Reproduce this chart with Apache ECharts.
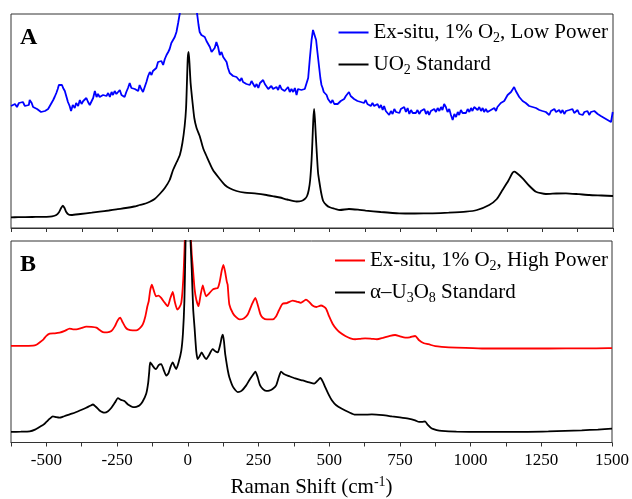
<!DOCTYPE html>
<html>
<head>
<meta charset="utf-8">
<script src="https://cdn.jsdelivr.net/npm/echarts@6/dist/echarts.min.js"></script>
<style>
  html, body { margin: 0; padding: 0; background: #fff; }
  #chart { width: 632px; height: 499px; }
</style>
</head>
<body>
<div id="chart"></div>
<script>
// Raman shift axis (cm-1)
const shiftMin = -625;
const shiftMax = 1500;
const tickStep = 125;
const labelStep = 250;

// Panel A: ex-situ sample at low laser power vs UO2 reference (arbitrary intensity)
const lowPowerA = [
  [-625,122],[-618,120],[-611,124],[-604,121],[-597,125],[-590,123],[-583,126],[-576,122],[-569,124],[-562,123],
  [-559,128],[-552,125],[-547,121],[-540,122],[-533,119],[-526,120],[-519,116],[-512,118],[-505,117],[-500,116],
  [-494,119],[-488,122],[-482,125],[-476,128],[-471,131],[-465,135],[-460,139],[-456,143],[-450,141],[-445,143],
  [-441,140],[-435,137],[-429,131],[-424,126],[-418,122],[-413,117],[-407,123],[-400,120],[-395,125],[-388,122],
  [-382,128],[-376,124],[-370,127],[-364,125],[-359,130],[-353,126],[-347,123],[-341,125],[-335,130],[-329,137],
  [-323,131],[-318,134],[-312,131],[-306,129],[-300,133],[-294,135],[-288,132],[-282,135],[-276,131],[-270,136],
  [-265,133],[-259,137],[-253,134],[-247,136],[-241,138],[-235,133],[-229,135],[-224,131],[-218,136],[-212,140],
  [-206,145],[-200,140],[-194,142],[-188,139],[-182,141],[-176,137],[-171,143],[-165,139],[-159,136],[-153,141],
  [-147,146],[-141,152],[-135,156],[-129,153],[-124,157],[-118,155],[-112,160],[-106,166],[-100,164],[-94,167],
  [-88,163],[-82,169],[-76,173],[-70,176],[-65,179],[-59,185],[-53,188],[-47,191],[-41,196],[-35,205],
  [-29,215],[-20,240],[-10,270],[0,290],[10,275],[20,245],[28,222],[33,212],[37,203],[41,196],
  [47,193],[53,195],[59,191],[65,187],[71,185],[77,181],[83,176],[88,175],[94,180],[100,186],
  [106,181],[112,173],[118,176],[124,171],[130,173],[136,166],[141,160],[147,155],[153,157],[159,152],
  [165,154],[171,151],[177,149],[183,147],[189,150],[194,146],[200,148],[206,144],[212,146],[218,143],
  [224,147],[230,145],[236,141],[242,144],[248,140],[254,145],[260,143],[265,148],[271,144],[277,146],
  [283,139],[288,138],[294,142],[300,139],[306,141],[312,141],[318,138],[324,143],[330,139],[335,141],
  [341,137],[347,138],[353,141],[359,136],[365,139],[371,136],[377,140],[383,133],[388,139],[394,137],
  [400,138],[406,136],[412,139],[418,141],[424,150],[430,170],[436,188],[441,198],[444,199],[448,197],
  [452,188],[457,175],[463,160],[467,150],[471,143],[475,140],[479,136],[483,137],[489,133],[494,129],
  [499,127],[504,125],[510,128],[516,124],[522,126],[528,124],[533,123],[539,127],[545,125],[551,129],
  [557,132],[562,130],[568,136],[574,132],[580,134],[586,129],[592,130],[598,127],[604,129],[610,126],
  [615,128],[621,125],[627,128],[633,124],[639,126],[645,122],[651,125],[657,122],[663,121],[669,124],
  [675,120],[681,123],[687,118],[692,122],[698,117],[704,119],[710,113],[716,117],[722,114],[728,119],
  [734,116],[740,118],[746,115],[751,119],[757,118],[763,121],[769,116],[775,120],[781,114],[787,118],
  [793,115],[799,117],[804,115],[810,118],[816,114],[822,117],[828,115],[834,119],[840,114],[846,117],
  [851,113],[857,117],[863,115],[869,119],[875,116],[881,120],[887,117],[893,121],[898,118],[904,124],
  [910,121],[916,116],[922,119],[928,113],[934,108],[940,114],[946,111],[952,116],[957,113],[963,118],
  [969,115],[975,117],[981,115],[987,119],[993,116],[999,120],[1004,117],[1010,121],[1016,120],[1022,118],
  [1028,121],[1034,117],[1040,120],[1045,116],[1051,119],[1057,116],[1063,115],[1069,118],[1075,116],[1081,120],
  [1087,117],[1092,121],[1098,121],[1104,125],[1110,123],[1116,127],[1122,130],[1128,133],[1134,131],[1140,136],
  [1146,134],[1151,141],[1157,137],[1163,135],[1169,131],[1175,133],[1181,127],[1187,129],[1192,125],[1198,127],
  [1204,122],[1210,124],[1216,121],[1222,123],[1228,120],[1234,122],[1240,118],[1245,120],[1251,117],[1257,119],
  [1263,116],[1269,117],[1275,113],[1281,117],[1287,115],[1293,119],[1299,116],[1304,118],[1310,118],[1316,115],
  [1322,118],[1328,114],[1334,117],[1340,115],[1346,118],[1351,116],[1357,119],[1363,115],[1369,116],[1375,118],
  [1381,114],[1387,116],[1393,113],[1399,116],[1404,114],[1410,117],[1416,113],[1422,116],[1428,114],[1434,117],
  [1440,116],[1446,114],[1452,115],[1457,112],[1463,114],[1469,110],[1475,111],[1481,108],[1487,110],[1493,106],
  [1499,116]
];

const uo2Standard = [
  [-625,10.7],[-600,10.8],[-550,11],[-500,11.2],[-480,11.6],[-465,13],[-455,16],[-448,20],[-442,22.3],[-436,20],
  [-430,16],[-422,13.5],[-412,13],[-380,14],[-340,15.3],[-312,16.3],[-280,17.5],[-253,18.7],[-220,20],[-190,21.5],
  [-171,23],[-150,24.5],[-135,26.3],[-118,29],[-100,34],[-82,40],[-65,48],[-53,58],[-40,66],[-29,73],
  [-20,85],[-12,102],[-7,120],[-4,145],[-1,170],[2,176],[5,165],[9,145],[16,125],[22,110],
  [30,100],[41,92],[53,80],[65,72],[88,58],[112,49],[130,43],[147,39.7],[171,37],[200,35.3],
  [242,34.4],[277,33],[305,31.5],[324,30.5],[350,28.5],[383,26.5],[400,27],[412,29],[420,32],[426,38],
  [431,48],[436,68],[439,87],[442,108],[445,119],[448,108],[451,92],[455,72],[459,55],[463,47],
  [470,35],[477,27],[488,23],[500,20.7],[520,19],[536,18],[568,19],[600,18.3],[627,17.3],[680,16],
  [745,14.7],[800,14.5],[863,14.7],[920,15.3],[981,16.3],[1020,18],[1063,23],[1090,29],[1110,38],[1130,47],
  [1145,55],[1151,56.3],[1160,55],[1181,49.7],[1205,42],[1228,36.3],[1263,34],[1300,34.5],[1334,34.7],[1380,33.8],
  [1416,33],[1460,32.5],[1500,32]
];

// Panel B: ex-situ sample at high laser power vs alpha-U3O8 reference
const highPowerB = [
  [-625,97.3],[-590,97.3],[-547,97.5],[-535,98.5],[-524,100.7],[-510,104],[-500,107.5],[-488,109.7],[-470,110],[-453,110.7],
  [-435,112.5],[-418,114.7],[-406,114],[-394,114],[-375,115.5],[-359,116.7],[-340,116.5],[-323,115.7],[-310,113],[-300,111.3],
  [-285,111],[-270,112.3],[-258,117],[-248,123],[-239,125.7],[-230,121],[-220,116],[-212,114],[-195,113],[-182,113],
  [-170,115],[-159,119],[-150,127],[-143,137],[-138,142.3],[-133,153],[-127,159],[-120,153],[-112,147.3],[-103,148],
  [-94,145.7],[-82,141],[-71,137.3],[-62,145],[-53,151.7],[-46,142],[-37,134],[-30,136],[-23,140.7],[-18,155],
  [-14,176],[-9,220],[0,420],[9,220],[14,190],[18,176],[24,155],[30,144],[38,137.3],[45,148],
  [53,158.3],[58,153],[65,147.3],[75,150],[88,154],[97,155],[106,155.7],[113,162],[120,173],[126,179],
  [132,172],[138,162],[141,159],[147,139],[160,130],[172,126],[183,124],[198,125],[212,129],[225,138],
  [239,145.7],[248,138],[257,129],[265,125.7],[280,124],[300,124],[312,127],[322,133],[335,139.7],[350,140.5],
  [371,143],[385,142],[400,140.7],[410,142.5],[418,144],[428,142],[441,138],[455,136.5],[471,138],[480,137],
  [489,134.7],[500,127],[512,119.7],[525,114.5],[536,111.3],[557,107.3],[575,105],[592,104],[610,104.5],[627,105],
  [650,104.5],[669,104],[690,105.5],[715,107.5],[733,108.3],[750,107],[769,105.7],[785,106],[804,107.3],[818,103],
  [835,100],[851,99],[875,97],[898,96.3],[950,95.5],[1040,94.7],[1150,94.7],[1275,94.7],[1400,94.8],[1487,95],
  [1500,95]
];

const u3o8Standard = [
  [-625,10.7],[-590,10.9],[-559,11.3],[-540,13],[-524,15.7],[-510,18],[-500,20.7],[-488,24],[-477,26.3],[-465,25.5],
  [-453,25],[-441,26],[-429,27.3],[-410,29],[-394,30.7],[-375,33],[-359,35],[-345,37],[-335,38.3],[-325,36],
  [-312,32.3],[-300,30.3],[-294,30],[-282,31.5],[-270,35],[-258,40],[-247,44.7],[-236,43],[-224,41.7],[-210,38],
  [-194,35.7],[-182,36],[-171,37.3],[-160,41],[-147,49],[-140,60],[-136,72],[-133,80.7],[-128,79],[-124,77.3],
  [-118,75],[-112,74],[-103,78],[-94,79],[-85,73],[-76,67.3],[-68,70],[-60,77],[-53,80.7],[-47,77],
  [-41,74],[-33,80],[-23,92.3],[-17,110],[-12,142],[-8,200],[-4,300],[0,420],[4,300],[9,210],
  [14,175],[19,135],[24,115.7],[30,92],[35,84],[42,87],[49,90.7],[57,87],[65,84],[75,88],
  [88,94],[97,92],[106,90.7],[115,99],[120,106],[124,108.7],[128,102],[132,90],[136,82.3],[142,72],
  [147,65.7],[160,56],[177,50.7],[190,52],[206,57.3],[218,63],[230,68],[239,71.5],[247,66],[255,58],
  [265,54],[277,52],[288,52.3],[300,54],[312,57.3],[322,66],[330,71.5],[340,69],[359,66.8],[380,64.5],
  [406,62.5],[430,60.5],[447,59.3],[458,62],[469,65],[478,61],[486,55.7],[497,49],[510,42.3],[525,37.5],
  [545,34],[570,30.5],[592,28],[620,28],[651,28.3],[690,27.5],[722,26.3],[750,25.3],[780,24],[804,22.3],
  [818,20.7],[828,20.7],[839,21.3],[848,18],[863,14],[880,12.5],[898,11.7],[950,11],[1040,10.7],[1157,10.7],
  [1275,11.3],[1393,12.3],[1450,13],[1500,14]
];

// Series names and their rich-text legend labels
const nameLowPower = 'Ex-situ, 1% O2, Low Power';
const nameUO2 = 'UO2 Standard';
const nameHighPower = 'Ex-situ, 1% O2, High Power';
const nameU3O8 = 'α–U3O8 Standard';
const legendLabels = {
  [nameLowPower]: 'Ex-situ, 1% O{sub|2}, Low Power',
  [nameUO2]: 'UO{sub|2} Standard',
  [nameHighPower]: 'Ex-situ, 1% O{sub|2}, High Power',
  [nameU3O8]: 'α–U{sub|3}O{sub|8} Standard'
};

const serif = '"Liberation Serif", "Times New Roman", serif';
const frameColor = '#333';

const chart = echarts.init(document.getElementById('chart'), null, { renderer: 'canvas' });

function xAxisFor(gridIndex, withLabels) {
  return {
    type: 'value', gridIndex: gridIndex,
    min: shiftMin, max: shiftMax, interval: tickStep,
    axisLine: { show: true, onZero: false, lineStyle: { color: frameColor, width: 1 } },
    axisTick: { show: true, inside: false, length: 4, lineStyle: { color: frameColor, width: 1 } },
    splitLine: { show: false },
    axisLabel: {
      show: withLabels, margin: 10, color: '#000', fontFamily: serif, fontSize: 17,
      formatter: v => (v % labelStep === 0 ? String(v) : '')
    },
    name: withLabels ? 'Raman Shift (cm{sup|-1})' : '',
    nameLocation: 'middle', nameGap: 33,
    nameTextStyle: {
      color: '#000', fontFamily: serif, fontSize: 21,
      rich: { sup: { fontSize: 14, fontFamily: serif, color: '#000', padding: [0, 0, 10, 0] } }
    }
  };
}

function legendFor(names, top) {
  return {
    data: names, orient: 'vertical', right: 19, top: top,
    itemWidth: 30, itemHeight: 2, itemGap: 9, icon: 'rect',
    selectedMode: false,
    formatter: n => legendLabels[n],
    textStyle: {
      color: '#000', fontFamily: serif, fontSize: 21,
      rich: { sub: { fontSize: 14, fontFamily: serif, color: '#000', padding: [11, 0, 0, 0] } }
    }
  };
}

function lineSeries(name, data, color, idx, smooth) {
  return {
    name: name, type: 'line', data: data, xAxisIndex: idx, yAxisIndex: idx,
    showSymbol: false, symbol: 'none', clip: true, smooth: smooth,
    lineStyle: { color: color, width: 1.8 }, itemStyle: { color: color },
    animation: false
  };
}

chart.setOption({
  animation: false,
  backgroundColor: '#fff',
  grid: [
    { left: 11, right: 19, top: 14, height: 214, show: true, borderColor: frameColor, borderWidth: 1, containLabel: false },
    { left: 11, right: 19, top: 241, height: 203, show: true, borderColor: frameColor, borderWidth: 1, containLabel: false }
  ],
  xAxis: [xAxisFor(0, false), xAxisFor(1, true)],
  yAxis: [
    { type: 'value', gridIndex: 0, min: 0, max: 214, show: false },
    { type: 'value', gridIndex: 1, min: 0, max: 203, show: false }
  ],
  legend: [
    legendFor([nameLowPower, nameUO2], 17),
    legendFor([nameHighPower, nameU3O8], 245)
  ],
  graphic: [
    { type: 'text', left: 20, top: 26, style: { text: 'A', font: 'bold 24px "Liberation Serif"', fill: '#000' } },
    { type: 'text', left: 20, top: 253, style: { text: 'B', font: 'bold 24px "Liberation Serif"', fill: '#000' } }
  ],
  series: [
    lineSeries(nameLowPower, lowPowerA, '#0000ff', 0, false),
    lineSeries(nameUO2, uo2Standard, '#000000', 0, 0.2),
    lineSeries(nameHighPower, highPowerB, '#ff0000', 1, 0.2),
    lineSeries(nameU3O8, u3o8Standard, '#000000', 1, 0.2)
  ]
});
</script>
</body>
</html>
